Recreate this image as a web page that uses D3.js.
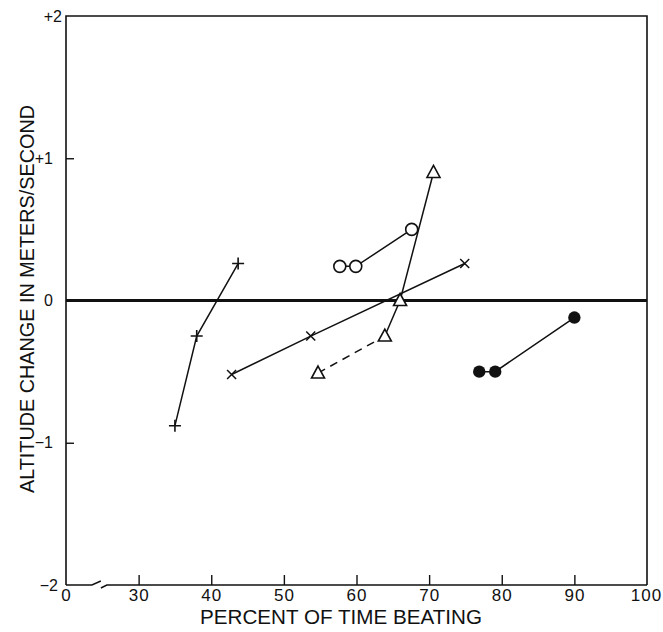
<!DOCTYPE html>
<html>
<head>
<meta charset="utf-8">
<script src="https://cdn.jsdelivr.net/npm/d3@7"></script>
<style>
  body { margin: 0; background: #fff; }
  text { font-family: "Liberation Sans", Arial, sans-serif; fill: #111; }
</style>
</head>
<body>
<div id="chart"></div>
<script>
// values (x = percent of time beating, y = altitude change m/s)
var plusX = [35.0, 38.0, 43.7],          plusY = [-0.88, -0.25, 0.26];
var crossX = [42.8, 53.7, 74.9],         crossY = [-0.52, -0.25, 0.26];
var openCircX = [57.7, 59.9, 67.6],      openCircY = [0.24, 0.24, 0.50];
var triX = [54.7, 63.9, 66.0, 70.6],     triY = [-0.51, -0.25, 0.0, 0.90];
var dotX = [76.9, 79.1, 90.0],           dotY = [-0.50, -0.50, -0.12];

var xTicks = [20, 30, 40, 50, 60, 70, 80, 90, 100];   // 20 is drawn as "0" (broken axis)
var xTickLabels = ["0", "30", "40", "50", "60", "70", "80", "90", "100"];
var yTicks = [-2, -1, 0, 1, 2];
var yTickLabels = ["\u22122", "\u22121", "0", "+1", "+2"];

var width = 663, height = 632;
var margin = {top: 16, right: 16, bottom: 47, left: 66};

var svg = d3.select("#chart").append("svg")
    .attr("width", width)
    .attr("height", height);

var x = d3.scaleLinear().domain([20, 100]).range([margin.left, width - margin.right]);
var y = d3.scaleLinear().domain([-2, 2]).range([height - margin.bottom, margin.top]);

var x0 = x.range()[0], x1 = x.range()[1], y0 = y.range()[0], y1 = y.range()[1];

// frame: left, top, right
svg.append("path")
    .attr("d", "M" + x0 + "," + y0 + "V" + y1 + "H" + x1 + "V" + y0)
    .attr("fill", "none").attr("stroke", "#111").attr("stroke-width", 1.6);

// bottom line with break
var bx = x(23.7);
svg.append("path")
    .attr("d", "M" + x0 + "," + y0 + "H" + (bx - 1) + "l9,-4"
        + "M" + (bx + 8) + "," + (y0 + 3) + "l6,-3H" + x1)
    .attr("fill", "none").attr("stroke", "#111").attr("stroke-width", 1.4);

// x ticks pointing inward
var xAxis = d3.axisBottom(x)
    .tickValues(xTicks)
    .tickSize(-10)
    .tickPadding(4)
    .tickFormat(function(d, i) { return xTickLabels[i]; });

var gx = svg.append("g").attr("transform", "translate(0," + y0 + ")").call(xAxis);
gx.select(".domain").remove();
gx.selectAll(".tick line").attr("stroke", "#111").attr("stroke-width", 1.4)
    .attr("display", function(d) { return (d === 20 || d === 100) ? "none" : null; });
gx.selectAll(".tick text").style("font-size", "17px").attr("letter-spacing", 1)
    .attr("fill", "#111")
    .attr("dx", function(d) { return d === 100 ? -1 : 0; });

// y ticks pointing inward
var yAxis = d3.axisLeft(y)
    .tickValues(yTicks)
    .tickSize(-8)
    .tickPadding(13)
    .tickFormat(function(d, i) { return yTickLabels[i]; });

var gy = svg.append("g").attr("transform", "translate(" + x0 + ",0)").call(yAxis);
gy.select(".domain").remove();
gy.selectAll(".tick line").attr("stroke", "#111").attr("stroke-width", 1.4)
    .attr("display", function(d) { return (d === 2 || d === -2) ? "none" : null; });
gy.selectAll(".tick text").style("font-size", "16px")
    .attr("fill", "#111")
    .attr("dx", function(d) { return d === 2 ? 9 : (d === -2 ? 5 : 0); });

// heavy zero line
svg.append("line")
    .attr("x1", x0).attr("x2", x1)
    .attr("y1", y(0)).attr("y2", y(0))
    .attr("stroke", "#111").attr("stroke-width", 3);

function pts(xs, ys) { return xs.map(function(v, i) { return [v, ys[i]]; }); }

var line = d3.line().x(function(d) { return x(d[0]); }).y(function(d) { return y(d[1]); });

function drawLine(data, dashed) {
    svg.append("path")
        .datum(data)
        .attr("d", line)
        .attr("fill", "none")
        .attr("stroke", "#111")
        .attr("stroke-width", 1.5)
        .attr("stroke-dasharray", dashed ? "8,6" : null);
}

var plusData = pts(plusX, plusY),
    crossData = pts(crossX, crossY),
    circData = pts(openCircX, openCircY),
    triData = pts(triX, triY),
    dotData = pts(dotX, dotY);

drawLine(plusData);
drawLine(crossData);
drawLine(circData);
drawLine(triData.slice(0, 2), true);
drawLine(triData.slice(1));
drawLine(dotData);

// markers
svg.selectAll(".plus").data(plusData).enter().append("path")
    .attr("d", "M-6,0H6M0,-6V6")
    .attr("transform", function(d) { return "translate(" + x(d[0]) + "," + y(d[1]) + ")"; })
    .attr("stroke", "#111").attr("stroke-width", 1.6);

svg.selectAll(".cross").data(crossData).enter().append("path")
    .attr("d", "M-4.5,-4.5L4.5,4.5M-4.5,4.5L4.5,-4.5")
    .attr("transform", function(d) { return "translate(" + x(d[0]) + "," + y(d[1]) + ")"; })
    .attr("stroke", "#111").attr("stroke-width", 1.5);

svg.selectAll(".ocirc").data(circData).enter().append("circle")
    .attr("cx", function(d) { return x(d[0]); })
    .attr("cy", function(d) { return y(d[1]); })
    .attr("r", 6)
    .attr("fill", "#fff").attr("stroke", "#111").attr("stroke-width", 1.6);

svg.selectAll(".tri").data(triData).enter().append("path")
    .attr("d", "M0,-7L6.5,5H-6.5Z")
    .attr("transform", function(d) { return "translate(" + x(d[0]) + "," + y(d[1]) + ")"; })
    .attr("fill", "#fff").attr("stroke", "#111").attr("stroke-width", 1.6);

svg.selectAll(".dot").data(dotData).enter().append("circle")
    .attr("cx", function(d) { return x(d[0]); })
    .attr("cy", function(d) { return y(d[1]); })
    .attr("r", 6.2)
    .attr("fill", "#111");

// axis titles
svg.append("text")
    .attr("x", 341).attr("y", 624)
    .attr("text-anchor", "middle")
    .attr("font-size", 21)
    .attr("textLength", 282).attr("lengthAdjust", "spacingAndGlyphs")
    .text("PERCENT OF TIME BEATING");

svg.append("text")
    .attr("transform", "translate(34,299) rotate(-90)")
    .attr("text-anchor", "middle")
    .attr("font-size", 21)
    .attr("textLength", 388).attr("lengthAdjust", "spacingAndGlyphs")
    .text("ALTITUDE CHANGE IN METERS/SECOND");
</script>
</body>
</html>
